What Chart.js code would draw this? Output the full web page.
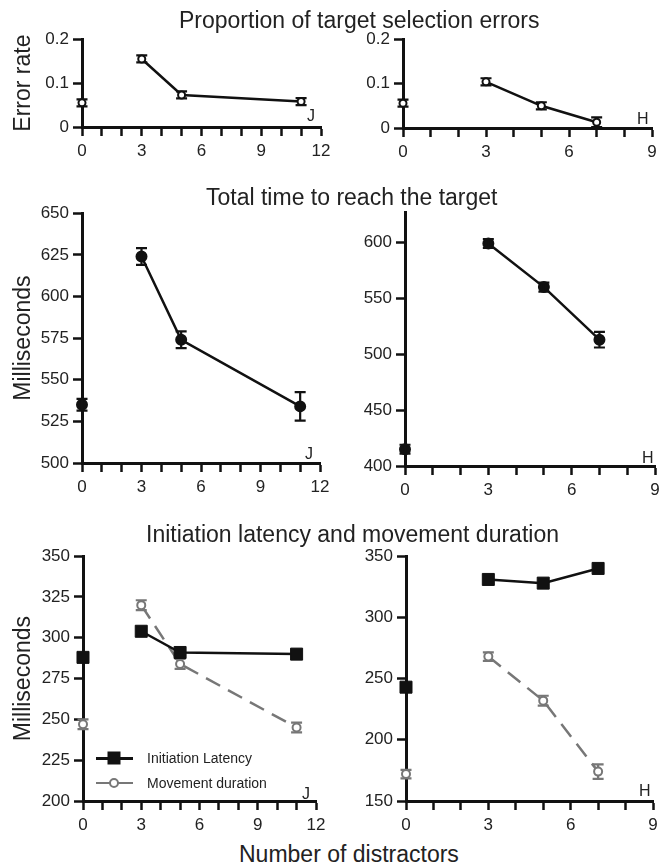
<!DOCTYPE html>
<html lang="en">
<head>
    <meta charset="UTF-8">
    <title>Distractor effects</title>
    <script src="https://cdn.jsdelivr.net/npm/chart.js"></script>
    <style>
        body {
            margin: 0;
            background: #fff;
            font-family: 'Liberation Sans', Arial, sans-serif;
            color: #222;
        }
        #page {
            position: relative;
            width: 668px;
            height: 865px;
            overflow: hidden;
        }
        .panel {
            position: absolute;
        }
        .label {
            position: absolute;
            white-space: nowrap;
            z-index: 2;
        }
        .title {
            font-size: 23px;
            line-height: 26px;
        }
        .subject {
            font-size: 16px;
            line-height: 16px;
        }
        .legend {
            position: absolute;
            left: 94px;
            top: 748px;
            z-index: 2;
            font-size: 14px;
        }
        .legend .row {
            display: flex;
            align-items: center;
            height: 20px;
            margin-bottom: 5px;
        }
        .legend .sym {
            position: relative;
            width: 39px;
            height: 20px;
            margin-right: 14px;
        }
        .legend .sym .ln {
            position: absolute;
            left: 2px;
            right: 0;
            top: 8.5px;
            height: 3px;
        }
        .legend .sym .mk {
            position: absolute;
            left: 50%;
            top: 50%;
            transform: translate(-50%, -50%);
            box-sizing: border-box;
        }
    </style>
</head>
<body>
<div id="page">
    <div class="label title" style="left:179px; top:7px;">Proportion of target selection errors</div>
    <div class="label title" style="left:206px; top:184px;">Total time to reach the target</div>
    <div class="label title" style="left:146px; top:521px;">Initiation latency and movement duration</div>
    <div class="label title" style="left:239px; top:841px;">Number of distractors</div>

    <div class="label subject" style="left:307px; top:108px;">J</div>
    <div class="label subject" style="left:637px; top:111px;">H</div>
    <div class="label subject" style="left:305px; top:446px;">J</div>
    <div class="label subject" style="left:642px; top:450px;">H</div>
    <div class="label subject" style="left:302px; top:786px;">J</div>
    <div class="label subject" style="left:639px; top:783px;">H</div>

    <div class="legend">
        <div class="row">
            <div class="sym">
                <div class="ln" style="background:#111;"></div>
                <div class="mk" style="width:13px; height:13px; background:#111;"></div>
            </div>
            <span>Initiation Latency</span>
        </div>
        <div class="row">
            <div class="sym">
                <div class="ln" style="background:#777; height:2.5px;"></div>
                <div class="mk" style="width:10px; height:10px; border:2px solid #777; border-radius:50%; background:#fff;"></div>
            </div>
            <span>Movement duration</span>
        </div>
    </div>
</div>

<script>
    // number of distractors, per monkey
    const jX = [0, 3, 5, 11];
    const hX = [0, 3, 5, 7];

    // proportion of target selection errors
    const jErrRate = [0.055, 0.155, 0.073, 0.058];
    const jErrRateSe = [0.008, 0.008, 0.008, 0.008];
    const hErrRate = [0.056, 0.104, 0.050, 0.013];
    const hErrRateSe = [0.008, 0.008, 0.008, 0.011];

    // total time to reach the target (ms)
    const jTotal = [535, 624, 574, 534];
    const jTotalSe = [3.5, 5, 5, 8.5];
    const hTotal = [415, 599, 560, 513];
    const hTotalSe = [4, 4, 4, 7];

    // initiation latency and movement duration (ms)
    const jLatency = [288, 304, 291, 290];
    const jMove = [247, 320, 284, 245];
    const jMoveSe = [3, 3, 3, 3];
    const hLatency = [243, 331, 328, 340];
    const hMove = [172, 268, 232, 174];
    const hMoveSe = [3.5, 3.5, 4, 6];

    // tick values
    const jXTicks = [0, 1, 2, 3, 4, 5, 6, 7, 8, 9, 10, 11, 12];
    const hXTicks = [0, 1, 2, 3, 4, 5, 6, 7, 8, 9];
    const errTicks = [0, 0.1, 0.2];
    const jTotalTicks = [500, 525, 550, 575, 600, 625, 650];
    const hTotalTicks = [400, 450, 500, 550, 600];
    const jTimeTicks = [200, 225, 250, 275, 300, 325, 350];
    const hTimeTicks = [150, 200, 250, 300, 350];

    const BLACK = '#111';
    const GREY = '#777';

    Chart.defaults.font.family = "'Liberation Sans', Arial, sans-serif";
    Chart.defaults.color = '#222';

    function drawBars(chart, onTop) {
        const { ctx, scales: { x, y } } = chart;
        chart.data.datasets.forEach(ds => {
            if (!ds.errors || !!ds.barsOnTop !== onTop) return;
            ctx.save();
            ctx.strokeStyle = ds.borderColor;
            ctx.lineWidth = 2.2;
            ds.data.forEach((p, i) => {
                const e = ds.errors[i];
                if (!e) return;
                const px = x.getPixelForValue(p.x);
                const y1 = y.getPixelForValue(p.y + e);
                const y2 = y.getPixelForValue(p.y - e);
                ctx.beginPath();
                ctx.moveTo(px, y1); ctx.lineTo(px, y2);
                ctx.moveTo(px - 5.5, y1); ctx.lineTo(px + 5.5, y1);
                ctx.moveTo(px - 5.5, y2); ctx.lineTo(px + 5.5, y2);
                ctx.stroke();
            });
            ctx.restore();
        });
    }

    const errorBars = {
        id: 'errorBars',
        beforeDatasetsDraw(chart) { drawBars(chart, false); },
        afterDatasetsDraw(chart) { drawBars(chart, true); }
    };

    function points(xs, ys) {
        return xs.map((x, i) => ({ x: x, y: ys[i] }));
    }

    function series(xs, ys, errs, style) {
        const color = style.color || BLACK;
        return {
            data: points(xs, ys),
            errors: errs,
            barsOnTop: !!style.barsOnTop,
            borderColor: color,
            backgroundColor: style.fill || color,
            borderWidth: 2.5,
            borderDash: style.dash || [],
            pointStyle: style.shape || 'circle',
            pointRadius: style.radius || 4,
            pointBorderWidth: style.pointBorder || 2,
            pointBorderColor: color,
            pointBackgroundColor: style.fill || color,
            clip: false,
            // the 0-distractor condition is not joined to the others
            segment: {
                borderColor: c => c.p0DataIndex === 0 ? 'rgba(0,0,0,0)' : color
            }
        };
    }

    function axisStyle() {
        return {
            border: { display: true, color: BLACK, width: 3 },
            grid: {
                display: true, drawOnChartArea: false, drawTicks: true,
                tickLength: 9, tickWidth: 2.5, tickColor: BLACK
            }
        };
    }

    function makePanel(area, xMax, xTicks, yMin, yMax, yTicks, datasets, yTitle) {
        const LP = yTitle ? area.l - 2 : 52;
        const TP = 14, RP = 18, BP = 40;
        const wrap = document.createElement('div');
        wrap.className = 'panel';
        wrap.style.left = (area.l - LP) + 'px';
        wrap.style.top = (area.t - TP) + 'px';
        const canvas = document.createElement('canvas');
        canvas.width = area.r - area.l + LP + RP;
        canvas.height = area.b - area.t + TP + BP;
        wrap.appendChild(canvas);
        document.getElementById('page').appendChild(wrap);

        new Chart(canvas, {
            type: 'line',
            data: { datasets: datasets },
            plugins: [errorBars],
            options: {
                responsive: false,
                animation: false,
                layout: { padding: { top: TP, right: RP, left: 0, bottom: 0 } },
                plugins: { legend: { display: false }, tooltip: { enabled: false } },
                scales: {
                    x: Object.assign(axisStyle(), {
                        type: 'linear', min: 0, max: xMax,
                        afterBuildTicks: s => { s.ticks = xTicks.map(v => ({ value: v })); },
                        afterFit: s => { s.height = BP; },
                        ticks: {
                            autoSkip: false, maxRotation: 0, padding: 5,
                            font: { size: 17 }, color: '#222',
                            callback: v => v % 3 === 0 ? v : ''
                        }
                    }),
                    y: Object.assign(axisStyle(), {
                        type: 'linear', min: yMin, max: yMax,
                        afterBuildTicks: s => { s.ticks = yTicks.map(v => ({ value: v })); },
                        afterFit: s => { s.width = LP; },
                        ticks: {
                            autoSkip: false, padding: 4,
                            font: { size: 17 }, color: '#222',
                            callback: v => v
                        },
                        title: {
                            display: !!yTitle, text: yTitle || '',
                            font: { size: 23 }, color: '#222',
                            padding: { top: 8, bottom: 0 }
                        }
                    })
                }
            }
        });
    }

    const openBlack = { fill: '#fff', radius: 3.5 };
    const filledBlack = { radius: 5, barsOnTop: true };
    const latencyStyle = { shape: 'rect', radius: 8.5, pointBorder: 1 };
    const moveStyle = { color: GREY, fill: '#fff', radius: 4, dash: [16, 9] };

    makePanel({ l: 82, t: 39, r: 321, b: 127 }, 12, jXTicks, 0, 0.2, errTicks,
        [series(jX, jErrRate, jErrRateSe, openBlack)], 'Error rate');
    makePanel({ l: 403, t: 39, r: 652, b: 128 }, 9, hXTicks, 0, 0.2, errTicks,
        [series(hX, hErrRate, hErrRateSe, openBlack)]);

    makePanel({ l: 82, t: 213, r: 320, b: 463 }, 12, jXTicks, 500, 650, jTotalTicks,
        [series(jX, jTotal, jTotalSe, filledBlack)], 'Milliseconds');
    makePanel({ l: 405, t: 212, r: 655, b: 466 }, 9, hXTicks, 400, 627, hTotalTicks,
        [series(hX, hTotal, hTotalSe, filledBlack)]);

    makePanel({ l: 83, t: 556, r: 316, b: 801 }, 12, jXTicks, 200, 350, jTimeTicks,
        [series(jX, jLatency, null, latencyStyle), series(jX, jMove, jMoveSe, moveStyle)], 'Milliseconds');
    makePanel({ l: 406, t: 556, r: 653, b: 801 }, 9, hXTicks, 150, 350, hTimeTicks,
        [series(hX, hLatency, null, latencyStyle), series(hX, hMove, hMoveSe, moveStyle)]);
</script>
</body>
</html>
